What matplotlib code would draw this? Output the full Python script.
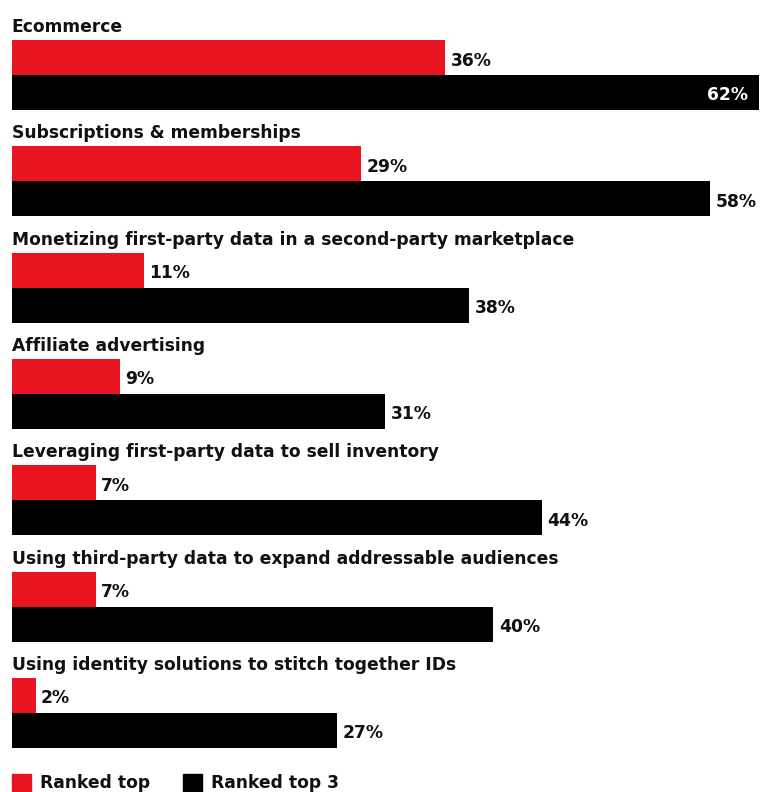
import matplotlib.pyplot as plt
from matplotlib.patches import Rectangle

categories = [
    "Ecommerce",
    "Subscriptions & memberships",
    "Monetizing first-party data in a second-party marketplace",
    "Affiliate advertising",
    "Leveraging first-party data to sell inventory",
    "Using third-party data to expand addressable audiences",
    "Using identity solutions to stitch together IDs",
]
ranked_top = [36, 29, 11, 9, 7, 7, 2]
ranked_top3 = [62, 58, 38, 31, 44, 40, 27]
series_names = ["Ranked top", "Ranked top 3"]

RED = "#e8141f"
BLACK = "#000000"

W, H = 772, 792
fig = plt.figure(figsize=(W / 100, H / 100), dpi=100)
ax = fig.add_axes([0, 0, 1, 1])

# x in percent, y in pixels from top
px_per_pct = 12.05
x0 = 11.5
ax.set_xlim(-x0 / px_per_pct, (W - x0) / px_per_pct)
ax.set_ylim(H, 0)
ax.axis("off")

first_top = 40
step = 106.3
bar_h = 35
font = "DejaVu Sans"
fs = 12.35

for i, (cat, a, b) in enumerate(zip(categories, ranked_top, ranked_top3)):
    top = first_top + i * step
    ax.text(0, top - 13, cat, fontsize=fs, fontweight="bold", family=font,
            va="center", ha="left", color="#111111")
    ax.barh(top + bar_h / 2, a, height=bar_h, left=0, color=RED)
    ax.barh(top + bar_h * 1.5, b, height=bar_h, left=0, color=BLACK)
    ax.text(a + 0.45, top + bar_h / 2 + 3, f"{a}%", fontsize=fs, fontweight="bold",
            family=font, va="center", ha="left", color="#111111")
    if b >= 60:
        ax.text(b - 0.9, top + bar_h * 1.5 + 3, f"{b}%", fontsize=fs, fontweight="bold",
                family=font, va="center", ha="right", color="white")
    else:
        ax.text(b + 0.45, top + bar_h * 1.5 + 3, f"{b}%", fontsize=fs, fontweight="bold",
                family=font, va="center", ha="left", color="#111111")

# legend
leg_y = 783
for name, col, xpx in zip(series_names, [RED, BLACK], [12, 183]):
    xs = (xpx - x0) / px_per_pct
    ax.add_patch(Rectangle((xs, leg_y - 9), 19 / px_per_pct, 19, color=col, clip_on=False))
    ax.text(xs + 28 / px_per_pct, leg_y, name, fontsize=fs, fontweight="bold",
            family=font, va="center", ha="left", color="#111111")

fig.savefig("out.png", dpi=100)
